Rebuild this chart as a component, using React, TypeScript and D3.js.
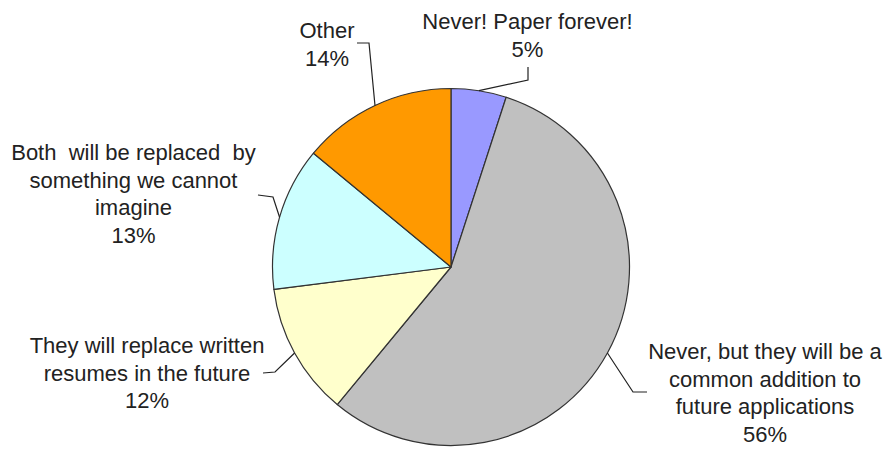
import React from "react";
import * as d3 from "d3";

// Survey answers and their shares (percent)
const categories = [
  "Never! Paper forever!",
  "Never, but they will be a common addition to future applications",
  "They will replace written resumes in the future",
  "Both  will be replaced  by something we cannot imagine",
  "Other",
];
const values = [5, 56, 12, 13, 14];
const colors = ["#9999FF", "#C0C0C0", "#FFFFCC", "#CCFFFF", "#FF9900"];

// Label lines as wrapped in the chart
const labelLines = [
  ["Never! Paper forever!"],
  ["Never, but they will be a", "common addition to", "future applications"],
  ["They will replace written", "resumes in the future"],
  ["Both  will be replaced  by", "something we cannot", "imagine"],
  ["Other"],
];

// Label placement: text centre x, first baseline y, and leader-line bend points
const labelLayout = [
  { x: 527.5, y: 29, leader: [[528, 80], [528, 67]] },
  { x: 765, y: 359, leader: [[633, 392], [647, 392]] },
  { x: 147, y: 353, leader: [[275, 372], [263, 373]] },
  { x: 133.5, y: 160, leader: [[273, 197], [258, 195]] },
  { x: 327, y: 38, leader: [[369, 43], [357, 43]] },
];

const W = 885;
const H = 449;
const CX = 451;
const CY = 267;
const R = 178.5;
const LINE = 27.7;

export default function App() {
  const pie = d3.pie<number>().sort(null).value((d) => d);
  const arcs = pie(values);
  const arc = d3.arc<d3.PieArcDatum<number>>().innerRadius(0).outerRadius(R);
  const total = d3.sum(values);

  return (
    <svg
      width={W}
      height={H}
      style={{ position: "absolute", left: 0, top: 0, background: "#fff" }}
      fontFamily="'Liberation Sans', Arial, sans-serif"
      fontSize={22}
    >
      <g transform={`translate(${CX},${CY})`}>
        {arcs.map((a, i) => (
          <path
            key={i}
            d={arc(a) || ""}
            fill={colors[i]}
            stroke="#333"
            strokeWidth={1.2}
            strokeLinejoin="round"
          />
        ))}
      </g>
      {arcs.map((a, i) => {
        const mid = (a.startAngle + a.endAngle) / 2;
        const sx = CX + R * Math.sin(mid);
        const sy = CY - R * Math.cos(mid);
        const pts = [[sx, sy], ...labelLayout[i].leader];
        const line = d3.line()(pts as [number, number][]) || "";
        return (
          <path key={`l${i}`} d={line} fill="none" stroke="#222" strokeWidth={1.2} />
        );
      })}
      {labelLines.map((lines, i) => {
        const lay = labelLayout[i];
        const pct = `${Math.round((values[i] / total) * 100)}%`;
        const all = [...lines, pct];
        return (
          <text
            key={`t${i}`}
            x={lay.x}
            y={lay.y}
            textAnchor="middle"
            fill="#222"
            style={{ whiteSpace: "pre" }}
          >
            {all.map((s, j) => (
              <tspan key={j} x={lay.x} y={lay.y + j * LINE}>
                {s}
              </tspan>
            ))}
          </text>
        );
      })}
    </svg>
  );
}
